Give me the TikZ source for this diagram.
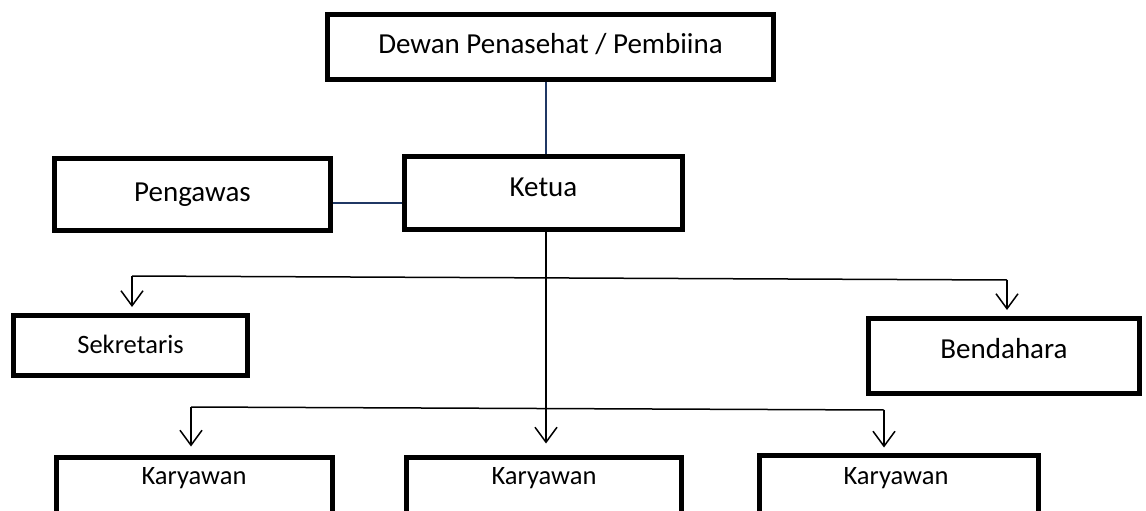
\documentclass[tikz,border=0pt]{standalone}
\usepackage{fontspec}
\setmainfont{Carlito}
\usetikzlibrary{arrows.meta}
\definecolor{navyline}{RGB}{32,56,100}
\tikzset{
  box/.style={draw=black, line width=5pt, fill=white, inner sep=0pt},
  bigtext/.style={font=\fontsize{29}{34}\selectfont, text height=18.7pt, text depth=0pt},
  smalltext/.style={font=\fontsize{26.5}{31}\selectfont, text height=17.1pt, text depth=0pt},
  plain/.style={inner sep=0pt},
  navy/.style={draw=navyline, line width=1.5pt},
  conn/.style={draw=black, line width=1.5pt},
  arr/.style={conn, -{Straight Barb[length=15pt,width=22pt,line width=1.5pt]}}
}
\begin{document}
\begin{tikzpicture}[x=1pt,y=-1pt]
\useasboundingbox (0,0) rectangle (1146,511);
\clip (0,0) rectangle (1146,511);
% boxes
\node[box, bigtext, minimum width=446pt, minimum height=65pt] (dewan) at (550.5,47) {\raisebox{3pt}{Dewan Penasehat / Pembiina}};
\node[box, bigtext, minimum width=276pt, minimum height=72pt] (peng) at (192.5,194.5) {\raisebox{2.5pt}{Pengawas}};
\node[box, bigtext, minimum width=278pt, minimum height=73pt] (ketua) at (543.5,193) {\raisebox{5.5pt}{Ketua}};
\node[box, smalltext, minimum width=234pt, minimum height=60pt] (sek) at (130.5,345.5) {\raisebox{1pt}{Sekretaris}};
\node[box, bigtext, minimum width=271pt, minimum height=75pt] (bend) at (1004,356) {\raisebox{7pt}{Bendahara}};
\node[box, anchor=north, minimum width=276pt, minimum height=100pt] (k1) at (194.5,454.5) {};
\node[box, anchor=north, minimum width=275pt, minimum height=100pt] (k2) at (544,454.5) {};
\node[box, anchor=north, minimum width=279pt, minimum height=100pt] (k3) at (899,452.5) {};
\node[plain, smalltext] (k1t) at (194,476) {Karyawan};
\node[plain, smalltext] (k2t) at (544,476) {Karyawan};
\node[plain, smalltext] (k3t) at (896,476) {Karyawan};
% coordinates for the bus lines
\coordinate (sl) at (132,276);
\coordinate (br) at (1007,280);
\coordinate (kl) at (191,407);
\coordinate (kr) at (884,410);
% connectors
\draw[navy] (dewan.south -| 546,0) -- (ketua.north -| 546,0);
\draw[navy] (peng.east |- 0,203) -- (ketua.west |- 0,203);
\draw[conn] (sl) -- (br);
\draw[arr] (sl) -- ([yshift=6pt]sek.north -| sl);
\draw[arr] (br) -- ([yshift=6pt]bend.north -| br);
\draw[conn] (kl) -- (kr);
\draw[arr] (kl) -- ([yshift=8pt]k1.north -| kl);
\draw[arr] (kr) -- ([yshift=5pt]k3.north -| kr);
\draw[arr] (ketua.south -| 546,0) -- ([yshift=11pt]k2.north -| 546,0);
\end{tikzpicture}
\end{document}
